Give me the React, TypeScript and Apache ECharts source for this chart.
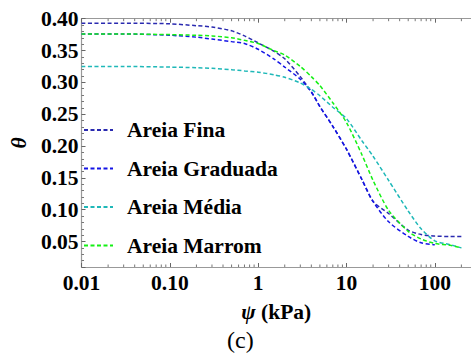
import React, { useEffect, useRef } from "react";
import * as echarts from "echarts";

const psi = [0.01, 0.03, 0.1, 0.2, 0.3, 0.5, 0.7, 1, 1.5, 2, 3, 4, 5, 7, 10, 15, 20, 30, 50, 70, 100, 150, 200];
const areiaFina = [0.393, 0.393, 0.392, 0.389, 0.387, 0.381, 0.373, 0.362, 0.349, 0.337, 0.309, 0.285, 0.262, 0.231, 0.195, 0.147, 0.113, 0.094, 0.068, 0.061, 0.0585, 0.058, 0.058];
const areiaGraduada = [0.376, 0.376, 0.374, 0.371, 0.368, 0.364, 0.361, 0.352, 0.337, 0.324, 0.305, 0.285, 0.262, 0.231, 0.195, 0.147, 0.113, 0.081, 0.058, 0.048, 0.045];
const areiaMedia = [0.325, 0.325, 0.324, 0.323, 0.322, 0.320, 0.318, 0.316, 0.312, 0.308, 0.299, 0.289, 0.279, 0.261, 0.243, 0.208, 0.184, 0.146, 0.098, 0.070, 0.051, 0.045, 0.040];
const areiaMarrom = [0.376, 0.376, 0.375, 0.374, 0.373, 0.370, 0.366, 0.361, 0.350, 0.343, 0.325, 0.309, 0.295, 0.268, 0.237, 0.186, 0.146, 0.099, 0.066, 0.054, 0.047, 0.044, 0.040];

const seriesNames = ["Areia Fina", "Areia Graduada", "Areia Média", "Areia Marrom"];
const seriesColors = ["#2a2ab0", "#1414e6", "#1fb8b8", "#14f014"];
const seriesValues = [areiaFina, areiaGraduada, areiaMedia, areiaMarrom];

const X_MIN = 0.01;
const X_MAX = 257;
const Y_MIN = 0.01;
const Y_MAX = 0.4;
const minorX = [
  0.02, 0.03, 0.04, 0.05, 0.06, 0.07, 0.08, 0.09,
  0.2, 0.3, 0.4, 0.5, 0.6, 0.7, 0.8, 0.9,
  2, 3, 4, 5, 6, 7, 8, 9,
  20, 30, 40, 50, 60, 70, 80, 90,
  200,
];

const FONT = "'Liberation Serif', 'Times New Roman', Times, serif";

export default function App() {
  const ref = useRef<HTMLDivElement>(null);
  useEffect(() => {
    if (!ref.current) return;
    const chart = echarts.init(ref.current, undefined, { renderer: "svg" });
    const lineSeries = seriesNames.map((name, i) => ({
      name,
      type: "line",
      data: seriesValues[i].map((v, j) => [psi[j], v]),
      symbol: "none",
      smooth: 0.25,
      lineStyle: { color: seriesColors[i], width: 1.5, type: [4, 2.5] },
      itemStyle: { color: seriesColors[i] },
      z: 3,
    }));
    const tickSeries = {
      type: "custom",
      silent: true,
      clip: false,
      data: minorX.map((v) => [v, Y_MIN]),
      encode: { x: 0, y: 1 },
      renderItem: (params: any, api: any) => {
        const p = api.coord([api.value(0), Y_MIN]);
        const cs = params.coordSys;
        const bottom = cs.y + cs.height;
        const top = cs.y;
        const st = { stroke: "#777", lineWidth: 1 };
        return {
          type: "group",
          children: [
            { type: "line", shape: { x1: p[0], y1: bottom, x2: p[0], y2: bottom - 2.5 }, style: st },
            { type: "line", shape: { x1: p[0], y1: top, x2: p[0], y2: top + 2.5 }, style: st },
          ],
        };
      },
      z: 1,
    };
    const xFmt = (v: number) => {
      const l = Math.log10(v);
      if (Math.abs(l - Math.round(l)) > 1e-6) return "";
      return v < 1 ? v.toFixed(2) : String(Math.round(v));
    };
    chart.setOption({
      animation: false,
      grid: { left: 74, top: 18.7, right: 0, bottom: 87, containLabel: false },
      legend: {
        data: seriesNames,
        orient: "vertical",
        left: 83,
        top: 119,
        padding: 0,
        itemWidth: 29,
        itemHeight: 10,
        itemGap: 16.5,
        itemStyle: { opacity: 0 },
        textStyle: {
          fontFamily: FONT,
          fontWeight: "bold",
          fontSize: 21.5,
          color: "#000",
          lineHeight: 22,
          padding: [0, 0, 0, 9],
        },
      },
      xAxis: [
        {
          type: "log",
          min: X_MIN,
          max: X_MAX,
          logBase: 10,
          name: "{i|ψ} (kPa)",
          nameLocation: "middle",
          nameGap: 34,
          nameTextStyle: {
            fontFamily: FONT,
            fontWeight: "bold",
            fontSize: 21.5,
            color: "#000",
            rich: {
              i: { fontFamily: FONT, fontWeight: "bold", fontStyle: "italic", fontSize: 21.5, color: "#000" },
            },
          },
          axisLine: { lineStyle: { color: "#999", width: 1.2 } },
          axisTick: { inside: true, length: 4, lineStyle: { color: "#666" } },
          axisLabel: {
            formatter: xFmt,
            margin: 5,
            fontFamily: FONT,
            fontWeight: "bold",
            fontSize: 21.5,
            color: "#000",
            showMaxLabel: false,
          },
          splitLine: { show: false },
        },
        {
          type: "log",
          position: "top",
          min: X_MIN,
          max: X_MAX,
          logBase: 10,
          axisLine: { lineStyle: { color: "#999", width: 1.2 } },
          axisTick: { inside: true, length: 4, lineStyle: { color: "#666" } },
          axisLabel: { show: false },
          splitLine: { show: false },
        },
      ],
      yAxis: {
        type: "value",
        min: Y_MIN,
        max: Y_MAX,
        splitNumber: 8,
        name: "θ",
        nameLocation: "middle",
        nameGap: 51,
        nameRotate: 90,
        nameTextStyle: {
          fontFamily: FONT,
          fontWeight: "bold",
          fontStyle: "italic",
          fontSize: 21.5,
          color: "#000",
        },
        axisLine: { show: true, lineStyle: { color: "#999", width: 1.2 } },
        axisTick: { show: true, inside: true, length: 4, lineStyle: { color: "#666" } },
        minorTick: { show: true, splitNumber: 5, length: 2.5, lineStyle: { color: "#777" } },
        axisLabel: {
          formatter: (v: number) => {
            const r = v / 0.05;
            if (Math.abs(r - Math.round(r)) > 1e-6) return "";
            return v.toFixed(2);
          },
          margin: 3,
          fontFamily: FONT,
          fontWeight: "bold",
          fontSize: 21.5,
          color: "#000",
        },
        splitLine: { show: false },
      },
      graphic: [
        {
          type: "text",
          left: 227,
          top: 328,
          style: { text: "(c)", fontFamily: FONT, fontSize: 24, fill: "#000" },
        },
      ],
      series: [...lineSeries, tickSeries],
    });
    return () => chart.dispose();
  }, []);
  return (
    <div
      ref={ref}
      style={{ position: "absolute", left: 0, top: 0, width: 471, height: 354, background: "#fff" }}
    />
  );
}
